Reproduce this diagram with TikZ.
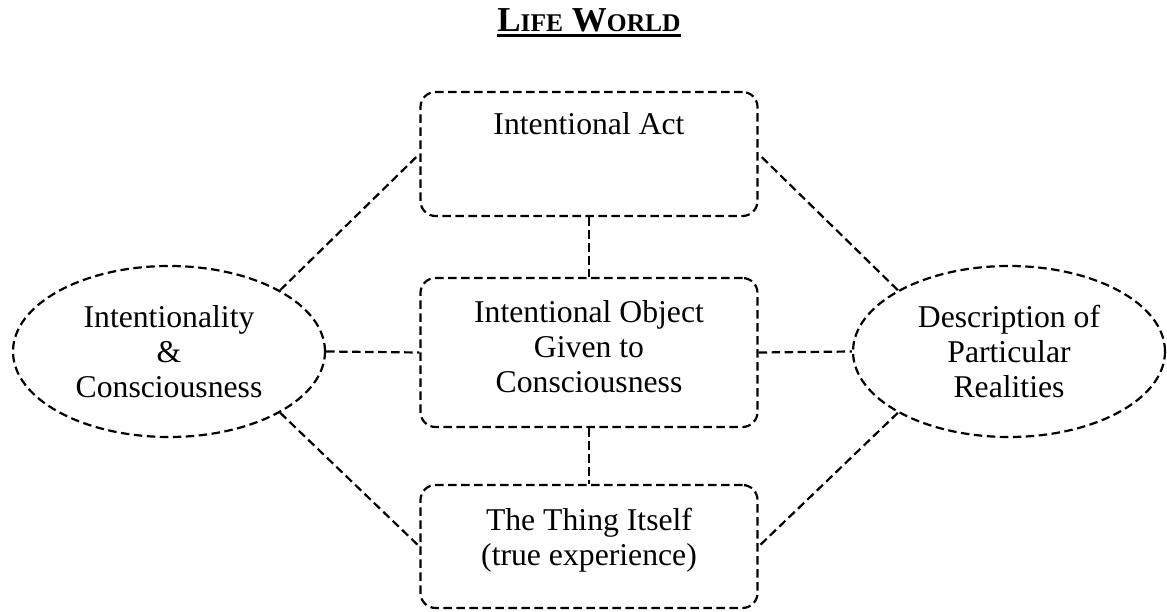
\documentclass[tikz,border=0pt]{standalone}
\usepackage{fontspec}
\setmainfont{Liberation Serif}
\usetikzlibrary{shapes.geometric}
\newcommand{\diagfont}{\fontsize{31.7}{35}\selectfont}
\newcommand{\capsmall}{\fontsize{25.5}{30}\selectfont}
\begin{document}
\begin{tikzpicture}[x=1pt,y=-1pt,
  dashline/.style={line width=2.2pt, dash pattern=on 8.5pt off 4.5pt},
  boxnode/.style={draw, dashline, rounded corners=15pt, minimum width=337pt,
    inner sep=0pt, align=center, font=\diagfont},
  ovalnode/.style={draw, dashline, ellipse, minimum width=312pt, minimum height=171pt,
    inner sep=0pt, align=center, font=\diagfont},
  link/.style={dashline}
]
\useasboundingbox (0,0) rectangle (1167,612);

% heading
\node[inner sep=0pt, anchor=base, font=\bfseries\fontsize{35}{40}\selectfont] (title)
  at (589,32) {L{\capsmall IFE} W{\capsmall ORLD}};
\draw[line width=3pt] ([yshift=-3.5pt]title.base west) -- ([yshift=-3.5pt]title.base east);

% central column
\node[boxnode, minimum height=124pt, text height=43pt, text depth=81pt] (act)
  at (589,154) {Intentional Act};
\node[boxnode, minimum height=149pt] (obj) at (589,352.5)
  {Intentional Object\\Given to\\Consciousness\rule[-11pt]{0pt}{11pt}};
\node[boxnode, minimum height=123pt] (thing) at (589,546.5)
  {The Thing Itself\\(true experience)\rule[-20pt]{0pt}{20pt}};

% side ellipses
\node[ovalnode] (intent) at (169,351.5) {Intentionality\\\&\\Consciousness};
\node[ovalnode] (descr) at (1009,351.5) {Description of\\Particular\\Realities};

% connectors
\draw[link] (act.south) -- (obj.north);
\draw[link] (obj.south) -- (thing.north);
\draw[link] (intent.east) -- (obj.west);
\draw[link] (obj.east) -- (descr.west);
\draw[link] (intent.north east) -- (act.west);
\draw[link] (intent.south east) -- (thing.west);
\draw[link] (descr.north west) -- (act.east);
\draw[link] (descr.south west) -- (thing.east);
\end{tikzpicture}
\end{document}
